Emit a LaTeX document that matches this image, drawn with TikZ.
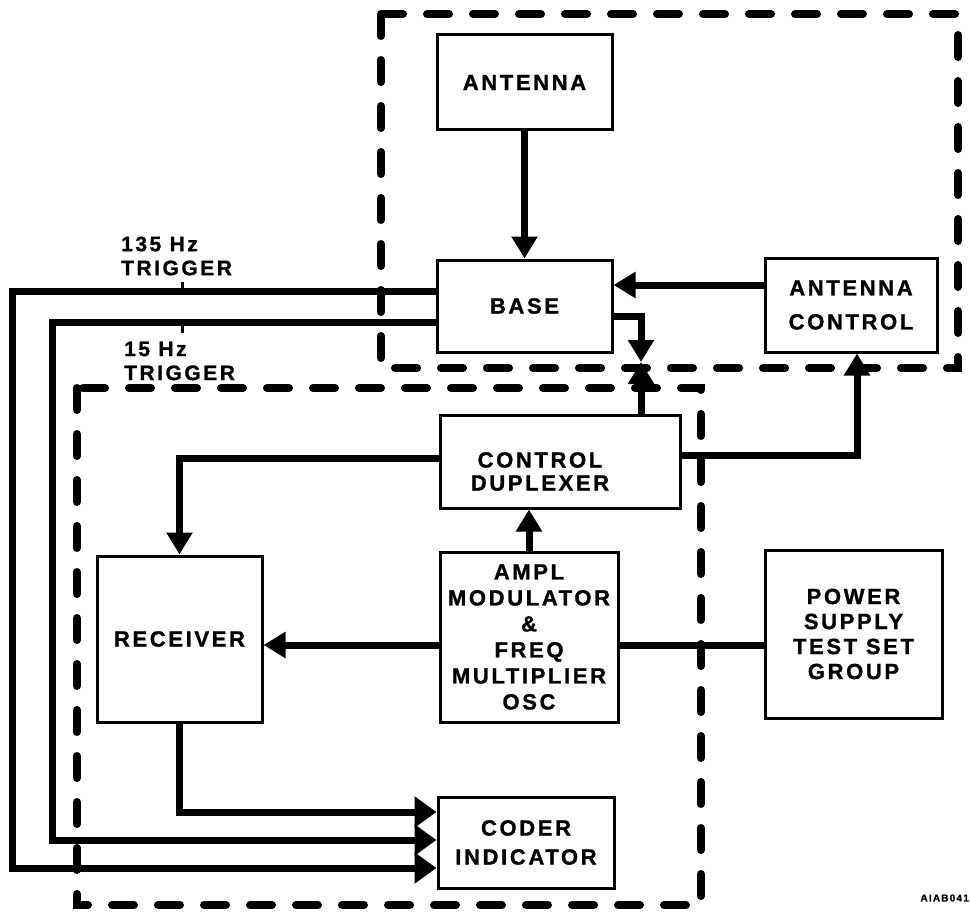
\documentclass[tikz,border=0pt]{standalone}
\usepackage{fontspec}
\newfontfamily\lbf{Liberation Sans}[LetterSpace=12, FakeBold=1.2]
\usetikzlibrary{arrows.meta}
\begin{document}
\begin{tikzpicture}[x=1pt,y=-1pt,
  box/.style={draw, line width=3pt, align=center, inner sep=0pt,
    font=\lbf\bfseries\fontsize{22}{26}\selectfont},
  conn/.style={line width=7pt},
  arr/.style={-{Triangle[length=22pt,width=25pt]}},
  bigarr/.style={-{Triangle[length=22pt,width=30pt]}},
  dashbox/.style={line width=8pt, line cap=round, dash pattern=on 22pt off 24pt},
  tick/.style={line width=3pt},
  lab/.style={align=left, inner sep=0pt, font=\lbf\bfseries\fontsize{21}{24}\selectfont}]
\useasboundingbox (0,0) rectangle (970,915);
% dashed groups
\draw[dashbox] (381,14) rectangle (958,368);
\draw[dashbox] (77,388) rectangle (701,905);
% boxes
\node[box, minimum width=175pt, minimum height=95pt] (ant) at (524.5,82.5) {ANTENNA};
\node[box, minimum width=175pt, minimum height=92pt] (base) at (524.5,306) {BASE};
\node[box, minimum width=172pt, minimum height=94pt,
  font=\lbf\bfseries\fontsize{22}{34}\selectfont] (actrl) at (851,305) {ANTENNA\\CONTROL};
\node[box, minimum width=240pt, minimum height=93pt,
  label={[align=center, font=\lbf\bfseries\fontsize{22}{23}\selectfont, xshift=-20pt, yshift=-10pt]center:CONTROL\\DUPLEXER}] (cd) at (560,461.5) {};
\node[box, minimum width=178pt, minimum height=170pt] (ampl) at (529,637) {AMPL\\MODULATOR\\\&\\FREQ\\MULTIPLIER\\OSC};
\node[box, minimum width=165pt, minimum height=166pt] (rcv) at (179.5,639) {RECEIVER};
\node[box, minimum width=177pt, minimum height=168pt,
  font=\lbf\bfseries\fontsize{22}{25}\selectfont] (ps) at (853.5,634) {POWER\\SUPPLY\\TEST SET\\GROUP};
\node[box, minimum width=176pt, minimum height=91pt,
  font=\lbf\bfseries\fontsize{22}{29}\selectfont] (coder) at (526,842.5) {CODER\\INDICATOR};
% connectors
\draw[conn,arr] (ant.south) -- (base.north);
\draw[conn,arr] (actrl.west |- 0,285) -- (base.east |- 0,285);
\coordinate (mid) at (641,362);
\draw[conn,arr] (base.east |- 0,316) -| (mid);
\draw[conn,arr] (cd.north -| mid) -- (mid);
\draw[conn,arr] (cd.east |- 0,455) -| ([xshift=6pt]actrl.south);
\draw[conn,arr] (cd.west |- 0,458) -| (rcv.north);
\draw[conn,arr] (ampl.north) -- (ampl.north |- cd.south);
\draw[conn,arr] (ampl.west |- 0,645) -- (rcv.east |- 0,645);
\draw[conn] (ampl.east |- 0,645) -- (ps.west |- 0,645);
\draw[conn,bigarr] (rcv.south) |- (coder.west |- 0,812);
\draw[conn,bigarr] (base.west |- 0,322) -| (52,840) -- (coder.west |- 0,840);
\draw[conn,bigarr] (base.west |- 0,291) -| (12,868) -- (coder.west |- 0,868);
% trigger labels and ticks
\coordinate (t1) at (182,291);
\coordinate (t2) at (182,322);
\draw[tick] (t1) -- ++(0,-9);
\draw[tick] (t2) -- ++(0,11);
\node[lab, anchor=west] (l135) at (121,256) {135 Hz\\TRIGGER};
\node[lab, anchor=west] (l15) at (124,361) {15 Hz\\TRIGGER};
\node[anchor=east, inner sep=0pt, font=\lbf\bfseries\fontsize{10}{12}\selectfont] (code) at (969,898) {AIAB041};
\end{tikzpicture}
\end{document}
